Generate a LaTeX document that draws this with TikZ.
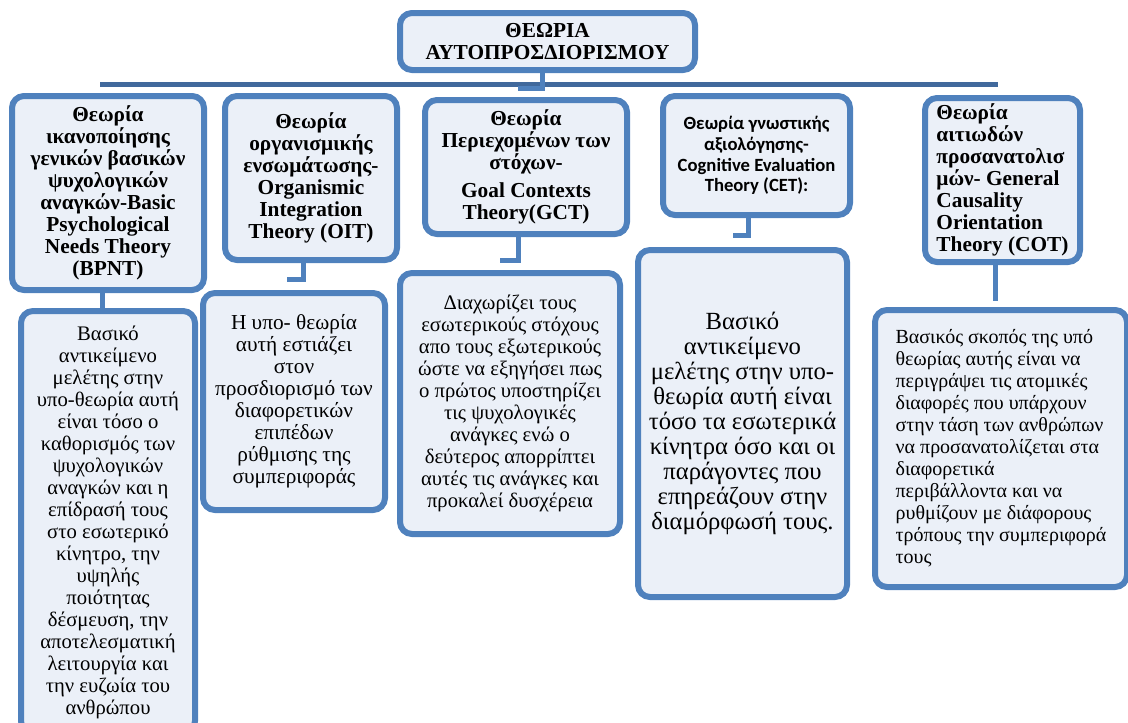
\documentclass[tikz,border=0pt]{standalone}
\usepackage{fontspec}
\setmainfont{Liberation Serif}
\newfontfamily\cetfont{Carlito}
\definecolor{boxline}{HTML}{4F81BD}
\definecolor{boxfill}{HTML}{EBF0F8}
\definecolor{busline}{HTML}{41699C}
\begin{document}
\begin{tikzpicture}[x=0.75pt,y=-0.75pt]
\tikzstyle{every node}+=[inner sep=0pt]
\tikzstyle{card}=[draw=boxline, fill=boxfill, line width=4.5pt, rounded corners=9pt, align=center]
\tikzstyle{head}=[card, font=\bfseries\fontsize{16}{16.5}\selectfont]
\tikzstyle{body}=[card, font=\fontsize{15.5}{16.5}\selectfont]
\tikzstyle{link}=[draw=boxline, line width=3.75pt]
\useasboundingbox (0,0) rectangle (1128,722);
\clip (0,0) rectangle (1128,722);
\coordinate (busL) at (100,84.5);
\coordinate (busR) at (998,84.5);
\coordinate (titleEnd) at (518,88);
\coordinate (oitEnd) at (287,279);
\coordinate (gctEnd) at (500,260);
\coordinate (cetEnd) at (733,235);
\coordinate (cotEnd) at (995,301);
\draw[link, draw=busline] (busL) -- (busR);
\node[head, minimum width=221.25pt, minimum height=42.75pt] (title) at (547.5,41.5) {ΘΕΩΡΙΑ\\ΑΥΤΟΠΡΟΣΔΙΟΡΙΣΜΟΥ};
\node[head, minimum width=144pt, minimum height=145.5pt] (bpnt) at (108,193) {Θεωρία\\ικανοποίησης\\γενικών βασικών\\ψυχολογικών\\αναγκών-Basic\\Psychological\\Needs Theory\\(BPNT)};
\node[head, minimum width=129pt, minimum height=123pt] (oit) at (311,178) {Θεωρία\\οργανισμικής\\ενσωμάτωσης-\\Organismic\\Integration\\Theory (OIT)};
\node[head, minimum width=151.5pt, minimum height=100.5pt] (gct) at (526,167) {Θεωρία\\Περιεχομένων των\\στόχων-\\[5pt]Goal Contexts\\Theory(GCT)};
\node[head, font=\cetfont\bfseries\fontsize{14}{15.5}\selectfont, minimum width=140.25pt, minimum height=89.25pt] (cet) at (756.5,155.5) {Θεωρία γνωστικής\\αξιολόγησης-\\Cognitive Evaluation\\Theory (CET):};
\node[head, align=left, minimum width=116.25pt, minimum height=123pt] (cot) at (1002.5,180) {Θεωρία\\αιτιωδών\\προσανατολισ\\μών- General\\Causality\\Orientation\\Theory (COT)};
\node[body, minimum width=130.5pt, minimum height=316.5pt] (bpntTxt) at (108,522) {Βασικό\\αντικείμενο\\μελέτης στην\\υπο-θεωρία αυτή\\είναι τόσο ο\\καθορισμός των\\ψυχολογικών\\αναγκών και η\\επίδρασή τους\\στο εσωτερικό\\κίνητρο, την\\υψηλής\\ποιότητας\\δέσμευση, την\\αποτελεσματική\\λειτουργία και\\την ευζωία του\\ανθρώπου};
\node[body, font=\fontsize{16}{16.5}\selectfont, minimum width=136.5pt, minimum height=162.75pt] (oitTxt) at (294,401.5) {Η υπο- θεωρία\\αυτή εστιάζει\\στον\\προσδιορισμό των\\διαφορετικών\\επιπέδων\\ρύθμισης της\\συμπεριφοράς};
\node[body, minimum width=165pt, minimum height=195.75pt] (gctTxt) at (510,403.5) {Διαχωρίζει τους\\εσωτερικούς στόχους\\απο τους εξωτερικούς\\ώστε να εξηγήσει πως\\ο πρώτος υποστηρίζει\\τις ψυχολογικές\\ανάγκες ενώ ο\\δεύτερος απορρίπτει\\αυτές τις ανάγκες και\\προκαλεί δυσχέρεια};
\node[body, font=\fontsize{18.5}{18.75}\selectfont, minimum width=156.75pt, minimum height=260.25pt] (cetTxt) at (742.5,423.5) {Βασικό\\αντικείμενο\\μελέτης στην υπο-\\θεωρία αυτή είναι\\τόσο τα εσωτερικά\\κίνητρα όσο και οι\\παράγοντες που\\επηρεάζουν στην\\διαμόρφωσή τους.};
\node[body, align=left, font=\fontsize{15}{16.5}\selectfont, minimum width=189pt, minimum height=207.75pt] (cotTxt) at (1001,448.5) {Βασικός σκοπός της υπό\\θεωρίας αυτής είναι να\\περιγράψει τις ατομικές\\διαφορές που υπάρχουν\\στην τάση των ανθρώπων\\να προσανατολίζεται στα\\διαφορετικά\\περιβάλλοντα και να\\ρυθμίζουν με διάφορους\\τρόπους την συμπεριφορά\\τους};
\draw[link] ([xshift=-4pt]title.south) |- (titleEnd);
\draw[link] ([xshift=-4.5pt]bpnt.south) -- ([xshift=-4.5pt]bpntTxt.north);
\draw[link] ([xshift=-6pt]oit.south) |- (oitEnd);
\draw[link] ([xshift=-6pt]gct.south) |- (gctEnd);
\draw[link] ([xshift=-6pt]cet.south) |- (cetEnd);
\draw[link] (cot.south -| cotEnd) -- (cotEnd);
\end{tikzpicture}
\end{document}
